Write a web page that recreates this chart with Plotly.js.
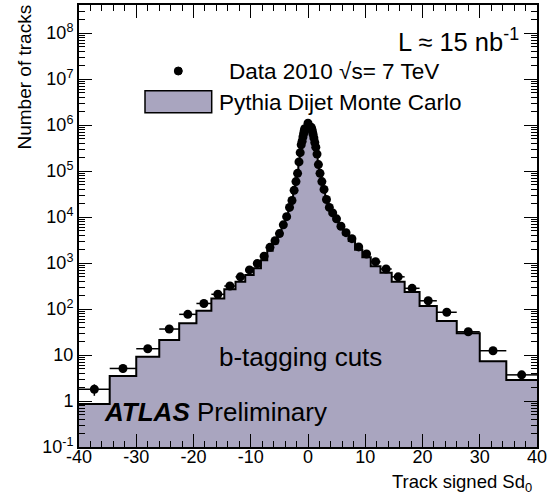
<!DOCTYPE html>
<html><head><meta charset="utf-8">
<script src="https://cdn.plot.ly/plotly-3.0.1.min.js"></script>
<style>html,body{margin:0;padding:0;background:#fff}#chart{width:557px;height:497px}</style>
</head><body><div id="chart"></div>
<script>
// Bin edges of the signed impact-parameter significance histogram
const binEdges = [-40, -34.64, -30, -25.98, -22.5, -19.49, -16.88, -14.62, -12.66, -10.96, -9.49, -8.22, -7.12, -6.17, -5.34, -4.62, -4.0, -3.46, -3.0, -2.6, -2.25, -1.95, -1.69, -1.46, -1.27, -1.1, -0.95, -0.82, -0.71, -0.62, -0.53,
  0.53, 0.62, 0.71, 0.82, 0.95, 1.1, 1.27, 1.46, 1.69, 1.95, 2.25, 2.6, 3.0, 3.46, 4.0, 4.62, 5.34, 6.17, 7.12, 8.22, 9.49, 10.96, 12.66, 14.62, 16.88, 19.49, 22.5, 25.98, 30, 34.64, 40];

// Data 2010 (tracks per bin), left to right
const dataCounts = [1.8, 5.1, 13.7, 36.7, 76.6, 132, 209, 316, 501, 708, 977, 1410, 2190, 3050, 4370, 6760, 10200, 16200, 22900, 38000, 58900, 89100, 158000, 251000, 372000, 447000, 550000, 646000, 741000, 832000,
  1100000,
  891000, 813000, 724000, 631000, 525000, 417000, 331000, 234000, 138000, 89100, 58900, 39800, 24000, 16200, 12300, 9120, 6310, 4570, 3390, 2240, 1570, 1070, 741, 501, 282, 151, 85, 32, 12.4, 3.7];

const dataErrors = [0.5, 1.0, 1.6, 2.6, 0, 0, 0, 0, 0, 0, 0, 0, 0, 0, 0, 0, 0, 0, 0, 0, 0, 0, 0, 0, 0, 0, 0, 0, 0, 0,
  0,
  0, 0, 0, 0, 0, 0, 0, 0, 0, 0, 0, 0, 0, 0, 0, 0, 0, 0, 0, 0, 0, 0, 0, 0, 0, 0, 0, 2.4, 1.5, 0.8];

// Pythia dijet Monte Carlo (tracks per bin), left to right
const mcCounts = [0.86, 3.5, 9.2, 21.2, 48.8, 92, 170, 268, 392, 548, 767, 1150, 1850, 2650, 3900, 6200, 9500, 15200, 21700, 36500, 57000, 87000, 154000, 246000, 366000, 441000, 543000, 640000, 736000, 826000,
  1090000,
  885000, 808000, 720000, 627000, 521000, 414000, 328000, 231000, 136000, 87500, 57500, 38500, 23000, 15400, 11600, 8500, 5800, 4150, 3000, 1950, 1330, 850, 617, 393, 234, 117, 55, 29.6, 7.3, 2.86];

const xTickVals = [-40, -30, -20, -10, 0, 10, 20, 30, 40];
const xTickText = ["-40", "-30", "-20", "-10", "0", "10", "20", "30", "40"];
const xMinorVals = [-38, -36, -34, -32, -28, -26, -24, -22, -18, -16, -14, -12, -8, -6, -4, -2, 2, 4, 6, 8, 12, 14, 16, 18, 22, 24, 26, 28, 32, 34, 36, 38];
const yTickVals = [0.1, 1, 10, 100, 1e3, 1e4, 1e5, 1e6, 1e7, 1e8];
const yTickText = ["10<sup>-1</sup>", "1", "10", "10<sup>2</sup>", "10<sup>3</sup>", "10<sup>4</sup>", "10<sup>5</sup>", "10<sup>6</sup>", "10<sup>7</sup>", "10<sup>8</sup>"];

const fillColor = '#a9a5bf';

const centers = [], widths = [], halfW = [];
for (let i = 0; i < binEdges.length - 1; i++) {
  centers.push((binEdges[i] + binEdges[i + 1]) / 2);
  widths.push(binEdges[i + 1] - binEdges[i]);
  halfW.push((binEdges[i + 1] - binEdges[i]) / 2);
}
const stepY = mcCounts.concat([mcCounts[mcCounts.length - 1]]);

const yMinorVals = [];
for (let d = -1; d <= 8; d++) {
  for (let m = 2; m <= 9; m++) {
    const v = m * Math.pow(10, d);
    if (Math.log10(v) < 8.61) yMinorVals.push(v);
  }
}

const traces = [
  { type: 'bar', x: centers, y: mcCounts, width: widths,
    marker: { color: fillColor, line: { width: 0 } }, hoverinfo: 'skip' },
  { type: 'scatter', mode: 'lines', x: binEdges, y: stepY,
    line: { shape: 'hv', color: 'black', width: 2 }, hoverinfo: 'skip' },
  { type: 'scatter', mode: 'markers', x: centers, y: dataCounts,
    marker: { color: 'black', size: 9 },
    error_x: { type: 'data', array: halfW, color: 'black', thickness: 1.5, width: 0 },
    error_y: { type: 'data', array: dataErrors, color: 'black', thickness: 1.5, width: 0 } }
];

function px(x) { return (x - 79) / 458; }
function py(y) { return (447 - y) / 442; }

const F = 'Liberation Sans, Arial, sans-serif';
const layout = {
  width: 557, height: 497,
  margin: { l: 79, r: 20, t: 5, b: 50 },
  paper_bgcolor: 'white', plot_bgcolor: 'white',
  showlegend: false, bargap: 0,
  font: { family: F, color: 'black', size: 18 },
  xaxis: {
    range: [-40, 40], tickmode: 'array', tickvals: xTickVals, ticktext: xTickText,
    ticks: 'inside', ticklen: 13, tickwidth: 1, tickcolor: 'black', ticklabelstandoff: -8,
    showline: true, linecolor: 'black', linewidth: 2, mirror: 'allticks',
    showgrid: false, zeroline: false, tickfont: { size: 18 },
    minor: { tickmode: 'array', tickvals: xMinorVals, ticks: 'inside', ticklen: 6, tickwidth: 1, tickcolor: 'black', showgrid: false }
  },
  yaxis: {
    type: 'log', range: [-1, 8.61], tickmode: 'array', tickvals: yTickVals, ticktext: yTickText,
    ticks: 'inside', ticklen: 13, tickwidth: 1, tickcolor: 'black',
    showline: true, linecolor: 'black', linewidth: 2, mirror: 'allticks',
    showgrid: false, zeroline: false, tickfont: { size: 18 },
    minor: { tickmode: 'array', tickvals: yMinorVals, ticks: 'inside', ticklen: 6, tickwidth: 1, tickcolor: 'black', showgrid: false }
  },
  shapes: [
    { type: 'rect', xref: 'paper', yref: 'paper', x0: px(145), x1: px(211.7), y0: py(112.7), y1: py(90.7),
      fillcolor: fillColor, line: { color: 'black', width: 1.5 } },
    { type: 'circle', xref: 'paper', yref: 'paper', x0: px(174.3), x1: px(182.3), y0: py(75), y1: py(67),
      fillcolor: 'black', line: { color: 'black', width: 1 } }
  ],
  annotations: [
    { text: 'Number of tracks', textangle: -90, xref: 'paper', yref: 'paper', x: px(24), y: py(3),
      xanchor: 'center', yanchor: 'top', showarrow: false, font: { size: 19 } },
    { text: 'Track signed Sd<sub>0</sub>', xref: 'paper', yref: 'paper', x: px(534), y: py(483),
      xanchor: 'right', yanchor: 'middle', showarrow: false, font: { size: 18.5 } },
    { text: 'L \u2248 15 nb<sup>-1</sup>', xref: 'paper', yref: 'paper', x: px(521), y: py(40),
      xanchor: 'right', yanchor: 'middle', showarrow: false, font: { size: 25.5 } },
    { text: 'Data 2010 \u221As= 7 TeV', xref: 'paper', yref: 'paper', x: px(227), y: py(71),
      xanchor: 'left', yanchor: 'middle', showarrow: false, font: { size: 22.5 } },
    { text: 'Pythia Dijet Monte Carlo', xref: 'paper', yref: 'paper', x: px(217), y: py(102),
      xanchor: 'left', yanchor: 'middle', showarrow: false, font: { size: 22.5 } },
    { text: 'b-tagging cuts', xref: 'paper', yref: 'paper', x: px(300), y: py(357),
      xanchor: 'center', yanchor: 'middle', showarrow: false, font: { size: 26 } },
    { text: '<b><i>ATLAS</i></b> Preliminary', xref: 'paper', yref: 'paper', x: px(102), y: py(412),
      xanchor: 'left', yanchor: 'middle', showarrow: false, font: { size: 26 } }
  ]
};

Plotly.newPlot('chart', traces, layout, { staticPlot: true, displayModeBar: false });
</script>
</body></html>
